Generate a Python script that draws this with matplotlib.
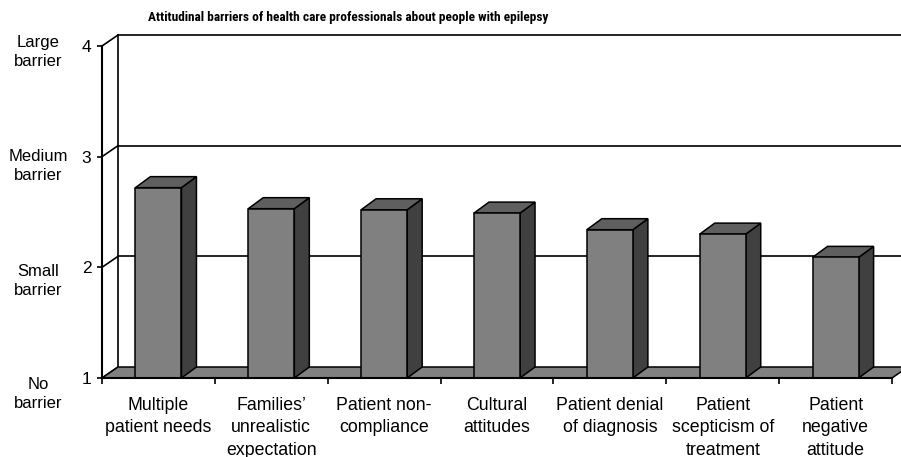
import matplotlib.pyplot as plt
from matplotlib.patches import Polygon
from matplotlib.ticker import FixedLocator, NullFormatter

plt.rcParams['font.family'] = ['Liberation Sans', 'DejaVu Sans']

title = "Attitudinal barriers of health care professionals about people with epilepsy"
categories = [
    "Multiple\npatient needs",
    "Families\u2019\nunrealistic\nexpectation",
    "Patient non-\ncompliance",
    "Cultural\nattitudes",
    "Patient denial\nof diagnosis",
    "Patient\nscepticism of\ntreatment",
    "Patient\nnegative\nattitude",
]
scores = [2.72, 2.53, 2.52, 2.49, 2.34, 2.30, 2.09]
levels = [1, 2, 3, 4]
level_names = ["No\nbarrier", "Small\nbarrier", "Medium\nbarrier", "Large\nbarrier"]

W, H = 901, 457
fig = plt.figure(figsize=(W / 100, H / 100), dpi=100)
# front plane of the 3D box: x 102..892 px, y 46..378 px (from top)
ax = fig.add_axes([102 / W, (H - 378) / H, 790 / W, 332 / H])
ax.set_xlim(0, len(categories))
ax.set_ylim(1, 4)

# depth offset of the box and of the columns, in data units
DX, DY = 16 / 112.86, 11 / 110.67
BDX, BDY = 15 / 112.86, 11 / 110.67
half = 0.204

edge = dict(edgecolor='black', linewidth=1.1, clip_on=False)

# back wall gridlines and side-wall diagonals
for v in levels:
    if v > 1:
        ax.plot([DX, 7.5], [v + DY, v + DY], color='black', lw=1.2, zorder=1, clip_on=False)
    ax.plot([0, DX], [v, v + DY], color='black', lw=1.2, zorder=1, clip_on=False)
ax.plot([DX, DX], [1 + DY, 4 + DY], color='black', lw=1.2, zorder=1, clip_on=False)

# floor
n = len(categories)
ax.add_patch(Polygon([(0, 1), (n, 1), (n + DX, 1 + DY), (DX, 1 + DY)],
                     facecolor='#808080', zorder=2, **edge))

# columns
for i, v in enumerate(scores):
    c = i + 0.5
    l, r = c - half, c + half
    ax.add_patch(Polygon([(r, 1), (r + BDX, 1 + BDY), (r + BDX, v + BDY), (r, v)],
                         facecolor='#404040', zorder=3, **edge))
    ax.add_patch(Polygon([(l, v), (r, v), (r + BDX, v + BDY), (l + BDX, v + BDY)],
                         facecolor='#5f5f5f', zorder=3, **edge))
    ax.add_patch(Polygon([(l, 1), (r, 1), (r, v), (l, v)],
                         facecolor='#808080', zorder=4, **edge))

# axes
for s in ['top', 'right']:
    ax.spines[s].set_visible(False)
ax.spines['left'].set_linewidth(1.5)
ax.spines['bottom'].set_linewidth(1.5)
ax.spines['left'].set_zorder(5)
ax.spines['bottom'].set_zorder(5)
ax.patch.set_visible(False)

ax.set_yticks(levels)
ax.set_yticklabels([str(v) for v in levels], fontsize=12.5)
ax.tick_params(axis='y', length=3.6, width=1.2, pad=4)

ax.xaxis.set_major_locator(FixedLocator(range(n + 1)))
ax.xaxis.set_major_formatter(NullFormatter())
ax.xaxis.set_minor_locator(FixedLocator([i + 0.5 for i in range(n)]))
ax.set_xticklabels(categories, minor=True, fontsize=12.8, linespacing=1.42)
ax.tick_params(axis='x', which='major', length=4.3, width=1.2)
ax.tick_params(axis='x', which='minor', length=0, pad=13.5)

# verbal scale to the left of the numbers
for name, py in zip(level_names, [394, 281, 166, 52]):
    fig.text(38 / W, 1 - py / H, name, ha='center', va='center',
             fontsize=12, linespacing=1.38)

fig.text(348 / W, 1 - 17 / H, title, ha='center', va='center',
         fontsize=9.6, fontweight='bold',
         family=['Liberation Sans Narrow', 'Roboto Condensed', 'Liberation Sans'])

fig.savefig('out.png', dpi=100)
